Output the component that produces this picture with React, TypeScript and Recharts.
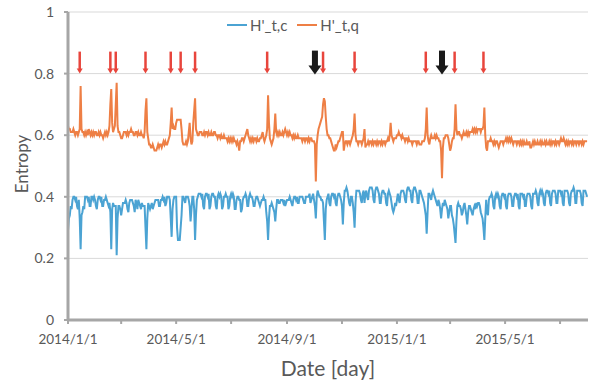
import React from 'react';
import { LineChart, Line, XAxis, YAxis, CartesianGrid, ReferenceDot } from 'recharts';

// daily values from 2014/1/1 (a Wednesday), in hundredths, one row per week
const entropyC = [
  29, 33, 34, 37, 36, 39, 40, 40, 39, 40, 37, 36, 39, 33, 23, 34, 35, 37, 36, 40, 40,
  40, 39, 40, 37, 37, 40, 40, 39, 40, 39, 37, 36, 39, 40, 40, 39, 40, 37, 37, 39, 39,
  40, 39, 38, 37, 38, 35, 23, 36, 38, 37, 37, 37, 21, 33, 37, 37, 36, 34, 36, 38, 38,
  38, 39, 38, 36, 35, 38, 39, 39, 39, 38, 37, 35, 39, 38, 36, 39, 38, 37, 36, 38, 37,
  37, 37, 30, 23, 33, 38, 37, 36, 37, 38, 36, 37, 38, 39, 39, 39, 39, 37, 37, 39, 39,
  40, 39, 40, 37, 38, 40, 40, 40, 39, 33, 27, 36, 39, 40, 40, 40, 30, 26, 26, 26, 30,
  34, 40, 40, 39, 38, 40, 40, 40, 39, 37, 32, 36, 40, 40, 36, 26, 34, 39, 40, 41, 41,
  41, 40, 41, 37, 36, 40, 41, 41, 40, 41, 36, 37, 40, 41, 41, 40, 40, 37, 36, 40, 41,
  40, 41, 40, 36, 37, 40, 40, 41, 40, 40, 36, 37, 40, 41, 40, 41, 40, 36, 36, 39, 40,
  40, 39, 39, 35, 36, 39, 40, 40, 41, 40, 37, 37, 40, 41, 40, 40, 39, 37, 37, 39, 40,
  40, 39, 38, 37, 38, 39, 39, 40, 39, 39, 35, 32, 26, 33, 37, 37, 38, 37, 36, 35, 32,
  36, 39, 39, 38, 38, 39, 39, 39, 38, 39, 37, 38, 39, 39, 39, 40, 39, 38, 37, 39, 40,
  40, 39, 40, 38, 38, 40, 40, 40, 40, 39, 38, 38, 40, 40, 40, 40, 41, 38, 39, 40, 41,
  39, 37, 33, 40, 42, 41, 40, 40, 39, 39, 38, 32, 26, 36, 39, 40, 41, 38, 37, 40, 41,
  41, 40, 41, 38, 37, 40, 41, 41, 40, 39, 37, 31, 38, 42, 42, 43, 42, 40, 38, 37, 40,
  40, 38, 35, 30, 38, 42, 42, 42, 42, 41, 39, 38, 41, 42, 38, 41, 42, 40, 39, 42, 43,
  43, 43, 42, 39, 38, 42, 43, 43, 42, 41, 38, 38, 41, 42, 42, 41, 41, 38, 37, 41, 42,
  41, 40, 38, 36, 35, 36, 38, 37, 39, 41, 39, 38, 41, 42, 42, 42, 41, 39, 38, 42, 43,
  43, 42, 42, 39, 38, 42, 43, 43, 42, 41, 38, 38, 42, 42, 41, 40, 39, 38, 36, 34, 28,
  35, 41, 41, 40, 39, 41, 42, 41, 40, 39, 38, 37, 39, 38, 36, 33, 36, 38, 37, 39, 38,
  37, 36, 33, 35, 37, 37, 34, 33, 31, 28, 25, 32, 37, 38, 37, 37, 36, 34, 35, 37, 38,
  36, 34, 31, 35, 37, 37, 36, 35, 34, 36, 37, 36, 38, 37, 38, 38, 37, 35, 34, 33, 30,
  26, 33, 39, 35, 34, 39, 40, 40, 41, 40, 37, 36, 40, 41, 40, 41, 40, 37, 36, 40, 41,
  41, 40, 41, 37, 36, 40, 41, 41, 41, 40, 37, 37, 40, 41, 41, 40, 41, 37, 36, 41, 41,
  41, 40, 41, 37, 37, 40, 41, 41, 41, 40, 37, 36, 41, 41, 41, 42, 41, 38, 37, 41, 42,
  41, 42, 41, 38, 37, 41, 42, 42, 41, 42, 38, 37, 41, 42, 42, 42, 41, 38, 38, 42, 42,
  42, 41, 42, 38, 37, 42, 42, 42, 42, 41, 38, 37, 41, 42, 42, 43, 42, 38, 38, 42, 42,
  42, 42, 41, 38, 37, 42, 42, 42, 41, 40,
];

const entropyQ = [
  63, 62, 62, 61, 61, 61, 62, 61, 60, 61, 61, 60, 61, 62, 76, 62, 61, 61, 60, 61, 60,
  61, 60, 62, 61, 60, 61, 60, 61, 60, 61, 61, 60, 60, 61, 60, 61, 60, 60, 59, 60, 61,
  60, 61, 60, 61, 63, 70, 75, 64, 61, 62, 63, 70, 77, 63, 61, 61, 60, 59, 59, 60, 61,
  61, 61, 60, 61, 60, 61, 61, 62, 61, 61, 60, 60, 61, 61, 60, 61, 60, 60, 61, 60, 60,
  59, 61, 68, 72, 61, 59, 57, 57, 56, 56, 57, 56, 55, 55, 55, 56, 57, 56, 57, 57, 56,
  57, 58, 57, 58, 57, 57, 58, 59, 60, 64, 69, 62, 63, 62, 62, 64, 65, 65, 65, 65, 65,
  62, 58, 57, 57, 57, 58, 57, 58, 61, 64, 59, 57, 58, 64, 68, 72, 62, 61, 60, 60, 61,
  61, 61, 60, 60, 61, 60, 61, 61, 60, 61, 60, 60, 61, 60, 60, 61, 61, 60, 60, 59, 60,
  60, 59, 60, 59, 59, 60, 59, 59, 59, 58, 59, 58, 59, 58, 59, 58, 59, 58, 58, 57, 58,
  57, 55, 58, 58, 59, 59, 58, 59, 60, 61, 62, 60, 59, 58, 59, 58, 59, 58, 59, 59, 58,
  59, 58, 58, 59, 59, 60, 61, 59, 58, 59, 60, 62, 73, 64, 59, 58, 57, 58, 59, 62, 67,
  61, 60, 61, 60, 61, 60, 60, 61, 60, 61, 62, 61, 60, 61, 60, 61, 60, 60, 59, 60, 59,
  60, 59, 59, 60, 59, 59, 59, 59, 58, 59, 59, 58, 59, 59, 58, 59, 58, 59, 59, 58, 58,
  58, 57, 45, 57, 60, 62, 63, 64, 65, 66, 70, 72, 71, 66, 62, 60, 60, 59, 59, 58, 57,
  56, 55, 55, 57, 56, 57, 58, 58, 59, 60, 61, 61, 55, 57, 58, 58, 57, 58, 58, 57, 58,
  59, 60, 62, 67, 60, 58, 58, 57, 58, 58, 58, 57, 58, 59, 62, 56, 57, 57, 58, 57, 58,
  58, 57, 58, 57, 58, 58, 57, 58, 57, 58, 58, 57, 58, 57, 58, 58, 57, 58, 58, 59, 58,
  60, 64, 60, 59, 58, 59, 59, 59, 60, 60, 61, 60, 60, 59, 60, 59, 59, 58, 59, 59, 58,
  59, 58, 58, 58, 57, 58, 58, 58, 58, 57, 58, 58, 57, 57, 57, 58, 58, 58, 59, 62, 69,
  60, 58, 57, 59, 60, 59, 59, 59, 60, 59, 60, 59, 59, 58, 58, 55, 46, 56, 59, 59, 60,
  60, 60, 59, 57, 55, 56, 58, 59, 59, 62, 70, 62, 60, 61, 61, 60, 60, 59, 60, 61, 60,
  60, 61, 60, 61, 60, 61, 61, 61, 62, 61, 62, 61, 62, 61, 62, 62, 62, 61, 62, 62, 63,
  69, 60, 56, 55, 58, 58, 58, 59, 58, 58, 57, 58, 57, 58, 58, 57, 56, 57, 58, 58, 58,
  57, 58, 58, 59, 58, 59, 58, 59, 58, 59, 58, 57, 58, 58, 58, 57, 58, 58, 57, 58, 57,
  58, 57, 58, 57, 57, 58, 57, 57, 58, 56, 56, 57, 58, 57, 58, 57, 57, 58, 57, 57, 58,
  57, 58, 57, 57, 58, 57, 58, 57, 57, 58, 57, 58, 57, 58, 58, 57, 58, 57, 58, 58, 57,
  58, 59, 58, 58, 59, 58, 57, 58, 57, 58, 57, 58, 58, 57, 58, 57, 58, 58, 57, 58, 58,
  57, 58, 58, 57, 58, 57, 58, 58, 58, 58,
];

const seriesNames = ["H'_t,c", "H'_t,q"];
const xTicks = [0, 59, 120, 181, 243, 304, 365, 424, 485, 546];
const xTickLabels = ['2014/1/1', '', '2014/5/1', '', '2014/9/1', '', '2015/1/1', '', '2015/5/1', ''];
const yTicks = [0, 0.2, 0.4, 0.6, 0.8, 1];
const redArrowDays = [13, 47, 53, 86, 114, 125, 141, 221, 283, 318, 397, 429, 461];
const blackArrowDays = [274, 415];

const data = entropyC.map((c, i) => ({ day: i, c: c / 100, q: entropyQ[i] / 100 }));

const BLUE = '#4BA3D3';
const ORANGE = '#EE7F45';
const AXIS = '#A6A6A6';
const TEXT = '#595959';
const FONT = 'Lato, "Open Sans", sans-serif';

const RedArrow = ({ cx, cy }: any) => (
  <g>
    <line x1={cx} y1={cy - 22} x2={cx} y2={cy - 4} stroke="#E8453C" strokeWidth={2.5} />
    <path d={`M${cx - 3},${cy - 5} L${cx + 3},${cy - 5} L${cx},${cy} Z`} fill="#E8453C" />
  </g>
);

const BlackArrow = ({ cx, cy }: any) => (
  <g>
    <rect x={cx - 3} y={cy - 23} width={6} height={16} fill="#1A1A1A" />
    <path d={`M${cx - 6.5},${cy - 8} L${cx + 6.5},${cy - 8} L${cx},${cy + 1} Z`} fill="#1A1A1A" />
  </g>
);

const LegendItem = ({ color, label }: { color: string; label: string }) => (
  <div style={{ display: 'flex', alignItems: 'center', marginRight: 10 }}>
    <div style={{ width: 20, height: 2, background: color, marginRight: 3 }} />
    <span>{label}</span>
  </div>
);

export default function App() {
  return (
    <div style={{ position: 'relative', width: 589, height: 383, background: '#fff', fontFamily: FONT }}>
      <style>{`body{margin:0}`}</style>
      <LineChart width={589} height={383} data={data} margin={{ top: 12, right: 1, left: 0, bottom: 0 }}>
        <CartesianGrid vertical={false} stroke="#D9D9D9" />
        <XAxis
          type="number"
          dataKey="day"
          domain={[0, 577]}
          ticks={xTicks}
          tickFormatter={(v: number) => xTickLabels[xTicks.indexOf(v)] ?? ''}
          height={63}
          axisLine={{ stroke: AXIS, strokeWidth: 3 }}
          tickLine={{ stroke: AXIS, strokeWidth: 2 }}
          tickSize={4}
          tickMargin={10}
          tick={{ fill: TEXT, fontSize: 13.5, fontFamily: FONT }}
          interval={0}
        />
        <YAxis
          domain={[0, 1]}
          ticks={yTicks}
          width={68}
          axisLine={{ stroke: AXIS, strokeWidth: 3 }}
          tickLine={{ stroke: AXIS, strokeWidth: 2 }}
          tickSize={4}
          tickMargin={10}
          tick={{ fill: TEXT, fontSize: 14, fontFamily: FONT }}
        />
        <Line type="linear" dataKey="c" name={seriesNames[0]} stroke={BLUE} strokeWidth={2} dot={false} isAnimationActive={false} />
        <Line type="linear" dataKey="q" name={seriesNames[1]} stroke={ORANGE} strokeWidth={2} dot={false} isAnimationActive={false} />
        {redArrowDays.map((d) => (
          <ReferenceDot key={`r${d}`} x={d} y={0.8} shape={(p: any) => <RedArrow {...p} />} />
        ))}
        {blackArrowDays.map((d) => (
          <ReferenceDot key={`b${d}`} x={d} y={0.8} shape={(p: any) => <BlackArrow {...p} />} />
        ))}
      </LineChart>

      <div style={{ position: 'absolute', left: 227, top: 16, display: 'flex', fontSize: 15, color: TEXT }}>
        <LegendItem color={BLUE} label={seriesNames[0]} />
        <LegendItem color={ORANGE} label={seriesNames[1]} />
      </div>

      <div style={{ position: 'absolute', left: 21, top: 164, transform: 'translate(-50%, -50%) rotate(-90deg)', fontSize: 17, color: TEXT, whiteSpace: 'nowrap' }}>
        Entropy
      </div>
      <div style={{ position: 'absolute', left: 328, top: 367, transform: 'translate(-50%, -50%)', fontSize: 21, color: TEXT, whiteSpace: 'nowrap' }}>
        Date [day]
      </div>
    </div>
  );
}
